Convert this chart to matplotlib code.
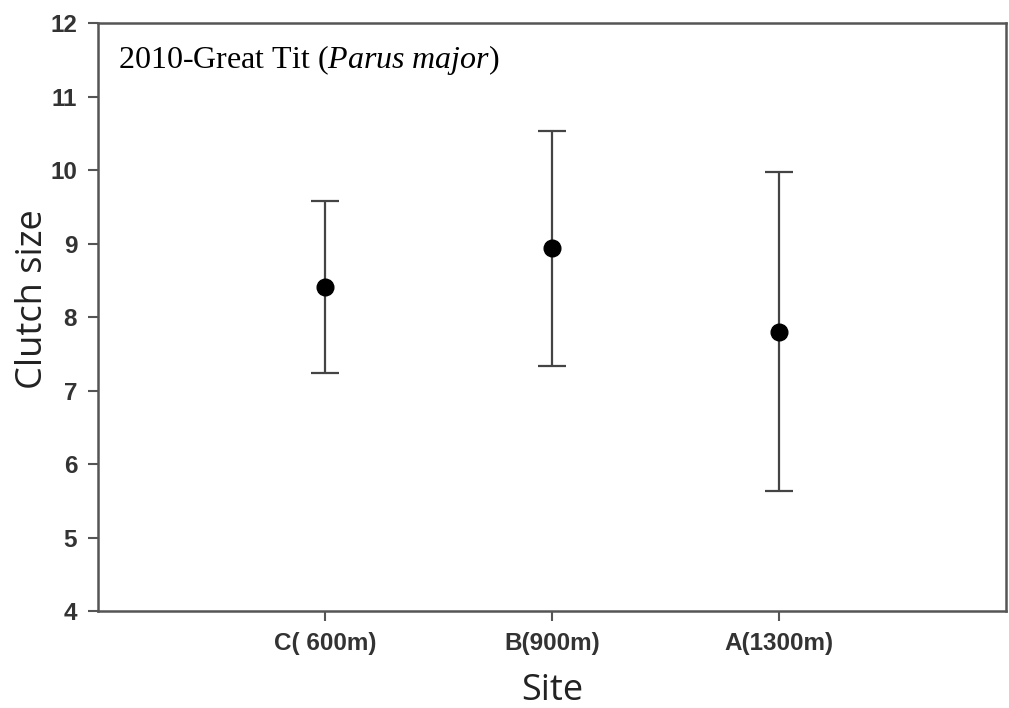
import numpy as np
import matplotlib
matplotlib.use("Agg")
from matplotlib import pyplot as plt

plt.rcParams["mathtext.fontset"] = "custom"
plt.rcParams["mathtext.it"] = "Liberation Serif:italic"
plt.rcParams["mathtext.rm"] = "Liberation Serif"

# data
sites = ["C( 600m)", "B(900m)", "A(1300m)"]
means = [8.41, 8.94, 7.80]
upper = [9.58, 10.53, 9.97]
lower = [7.24, 7.33, 5.63]

x = np.arange(1, len(sites) + 1)
yerr = [np.array(means) - np.array(lower), np.array(upper) - np.array(means)]

fig = plt.figure(figsize=(10.09, 7.08), dpi=100)
ax = fig.add_axes([0.0971, 0.137, 0.9, 0.8305])

ax.errorbar(x, means, yerr=yerr, fmt="o", color="black", markersize=12,
            ecolor="#444444", elinewidth=1.6, capsize=10, capthick=1.6)

ax.set_xlim(0, 4)
ax.set_ylim(4, 12)
ax.set_xticks(x)
ax.set_xticklabels(sites)
ax.set_yticks(range(4, 13))

for s in ax.spines.values():
    s.set_linewidth(1.8)
    s.set_color("#555555")

ax.tick_params(axis="both", direction="out", length=7, width=1.5, color="#555555",
               labelsize=17.5, labelcolor="#333333", pad=8)
for lab in ax.get_xticklabels() + ax.get_yticklabels():
    lab.set_family("Liberation Sans")
    lab.set_fontweight("bold")

ax.set_ylabel("Clutch size", fontsize=26, family="Open Sans", color="#222222")
ax.yaxis.set_label_coords(-0.052, 0.53)
ax.set_xlabel("Site", fontsize=26, family="Open Sans", color="#222222")
ax.xaxis.set_label_coords(0.5, -0.105)

ax.text(0.022, 0.937, "2010-Great Tit ($\\it{Parus\\ major}$)", transform=ax.transAxes,
        fontsize=23, family="Liberation Serif", va="center", ha="left")

plt.savefig("out.png", dpi=100)
